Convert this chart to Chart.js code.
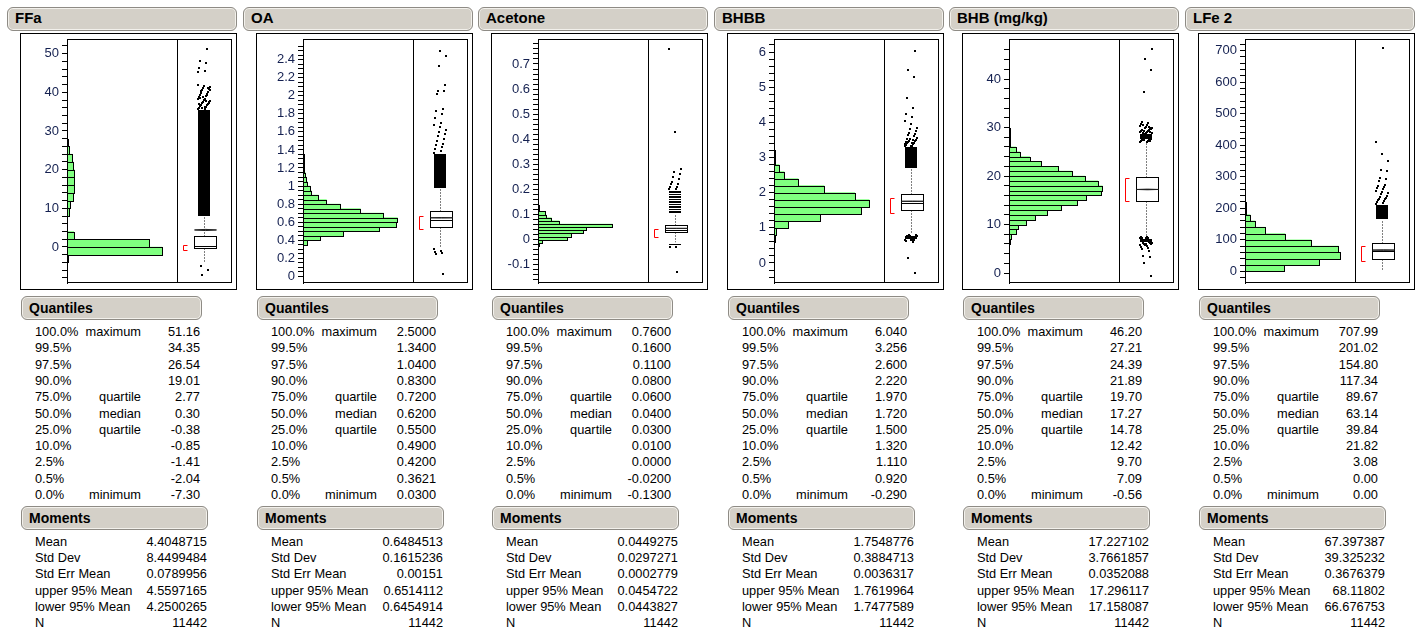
<!DOCTYPE html>
<html>
<head>
<meta charset="utf-8">
<script src="https://cdn.jsdelivr.net/npm/chart.js@4.4.0/dist/chart.umd.min.js"></script>
<style>
  html, body { margin: 0; padding: 0; background: #fff; }
  body { width: 1424px; height: 631px; position: relative; overflow: hidden;
         font-family: "Liberation Sans", Arial, sans-serif; color: #000; }
  .hdr { position: absolute; box-sizing: border-box; background: #d4d0c8;
         border: 1px solid #8e8b85; border-radius: 6px; box-shadow: inset 0 0 0 1px #f3f1ec;
         font-weight: bold; padding-left: 7px; white-space: nowrap; }
  .t { position: absolute; font-size: 12.8px; line-height: 16px; white-space: nowrap; }
  .r { text-align: right; }
  canvas { position: absolute; }
</style>
</head>
<body>
<script>
// row labels shared by all panels
const PCT = ["100.0%", "99.5%", "97.5%", "90.0%", "75.0%", "50.0%", "25.0%", "10.0%", "2.5%", "0.5%", "0.0%"];
const QNAME = ["maximum", "", "", "", "quartile", "median", "quartile", "", "", "", "minimum"];
const MNAME = ["Mean", "Std Dev", "Std Err Mean", "upper 95% Mean", "lower 95% Mean", "N"];

// ---- FFa
const ffaBins = [-8, -6, -4, -2, 0, 2, 4, 6, 8, 10, 12, 14, 16, 18, 20, 22, 24, 26, 28, 30, 32, 34, 36, 38, 40, 44, 46, 48, 50];
const ffaCounts = [2, 2, 25, 4700, 4060, 330, 8, 10, 100, 165, 315, 363, 363, 363, 315, 264, 115, 30, 15, 10, 8, 6, 4, 4, 4, 2, 2, 1, 1];
const ffaHist = [2, 5445];              // bin width, count at divider
const ffaAxis = [-9.31, 53.79, 2, 10];  // min, max, minor step, major step
const ffaTicks = [-8, 52];              // first and last tick
const ffaQuant = ["51.16", "34.35", "26.54", "19.01", "2.77", "0.30", "-0.38", "-0.85", "-1.41", "-2.04", "-7.30"];
const ffaMoments = ["4.4048715", "8.4499484", "0.0789956", "4.5597165", "4.2500265", "11442"];
const ffaWhisk = [-4.1, 7.8];
const ffaHalf = [-0.7, 0.6];
const ffaBands = [[8, 35.5]];
const ffaPts = [35.6, 35.8, 36, 36.2, 36.4, 36.6, 36.8, 37, 37.2, 37.4, 37.6, 37.8, 38, 38.2, 38.4, 38.7, 39, 39.3, 39.6, 39.9,
  40.2, 40.5, 40.8, 41.1, 41.4, 41.7, 42, 36.1, 36.9, 37.7, 38.5, 39.4, 40.3, 41.2, 35.9, 37.3, 38.9, 40.6, 41.6,
  45.2, 45.6, 46.3, 47.6, 48.2, 51.16, -5.0, -5.9, -7.3];

// ---- OA
const oaBins = [0.00, 0.25, 0.30, 0.35, 0.40, 0.45, 0.50, 0.55, 0.60, 0.65, 0.70, 0.75, 0.80, 0.85, 0.90, 0.95, 1.00, 1.05, 1.10, 1.15, 1.20, 1.25, 1.30, 1.35, 1.40, 1.45, 1.50, 1.55, 1.60, 1.65, 1.70, 1.75, 1.80, 2.00, 2.05, 2.30, 2.40, 2.50];
const oaCounts = [1, 6, 10, 88, 351, 817, 1546, 1890, 1910, 1627, 1161, 756, 473, 310, 169, 142, 88, 68, 47, 30, 25, 20, 15, 8, 5, 4, 3, 3, 3, 2, 1, 1, 2, 2, 2, 1, 1, 1];
const oaHist = [0.05, 2228];
const oaAxis = [-0.074, 2.629, 0.05, 0.2];
const oaTicks = [0, 2.55];
const oaQuant = ["2.5000", "1.3400", "1.0400", "0.8300", "0.7200", "0.6200", "0.5500", "0.4900", "0.4200", "0.3621", "0.0300"];
const oaMoments = ["0.6484513", "0.1615236", "0.00151", "0.6514112", "0.6454914", "11442"];
const oaWhisk = [0.31, 0.97];
const oaHalf = [0.52, 0.665];
const oaBands = [[0.975, 1.36]];
const oaPts = [1.37, 1.39, 1.41, 1.43, 1.45, 1.47, 1.5, 1.52, 1.55, 1.58, 1.6, 1.62, 1.65, 1.68, 1.7, 1.75, 1.8, 1.83, 1.85, 2.02, 2.05, 2.05, 2.12, 2.33, 2.44, 2.5, 0.3, 0.28, 0.27, 0.26, 0.25, 0.03];

// ---- Acetone
const accBins = [-0.1375, -0.05, -0.0375, -0.025, -0.0125, 0, 0.0125, 0.025, 0.0375, 0.05, 0.0625, 0.075, 0.0875, 0.1, 0.1125, 0.125, 0.1375, 0.15, 0.1625, 0.175, 0.1875, 0.2, 0.2125, 0.225, 0.2375, 0.25, 0.2625, 0.425, 0.75];
const accCounts = [1, 3, 10, 30, 161, 1167, 1327, 1825, 1945, 2990, 844, 536, 322, 295, 30, 25, 20, 15, 10, 8, 6, 4, 3, 3, 2, 2, 2, 1, 1];
const accHist = [0.0125, 4422];
const accAxis = [-0.1727, 0.7996, 0.02, 0.1];
const accTicks = [-0.16, 0.78];
const accQuant = ["0.7600", "0.1600", "0.1100", "0.0800", "0.0600", "0.0400", "0.0300", "0.0100", "0.0000", "-0.0200", "-0.1300"];
const accMoments = ["0.0449275", "0.0297271", "0.0002779", "0.0454722", "0.0443827", "11442"];
const accWhisk = [-0.01, 0.10];
const accHalf = [0.01, 0.043];
const accBands = [[0.107, 0.113], [0.117, 0.123], [0.127, 0.133], [0.137, 0.143], [0.147, 0.153], [0.157, 0.163], [0.167, 0.173], [0.177, 0.183], [0.187, 0.193], [-0.023, -0.017]];
const accPts = [0.2, 0.2, 0.21, 0.21, 0.22, 0.22, 0.23, 0.24, 0.25, 0.26, 0.27, 0.28, 0.43, 0.76, -0.03, -0.03, -0.13];

// ---- BHBB
const bhbbBins = [-0.4, 0, 0.4, 0.6, 0.8, 1.0, 1.2, 1.4, 1.6, 1.8, 2.0, 2.2, 2.4, 2.6, 2.8, 3.0, 3.2, 3.4, 3.6, 3.8, 4.0, 4.2, 4.6, 5.2, 5.4, 6.0];
const bhbbCounts = [1, 1, 3, 20, 55, 387, 1272, 2406, 2628, 2231, 1383, 664, 277, 138, 20, 15, 10, 6, 3, 2, 2, 2, 1, 1, 1, 1];
const bhbbHist = [0.2, 3043];
const bhbbAxis = [-0.569, 6.37, 0.2, 1];
const bhbbTicks = [-0.4, 6.2];
const bhbbQuant = ["6.040", "3.256", "2.600", "2.220", "1.970", "1.720", "1.500", "1.320", "1.110", "0.920", "-0.290"];
const bhbbMoments = ["1.7548776", "0.3884713", "0.0036317", "1.7619964", "1.7477589", "11442"];
const bhbbWhisk = [0.85, 2.67];
const bhbbHalf = [1.42, 1.85];
const bhbbBands = [[2.7, 3.3], [0.68, 0.76]];
const bhbbPts = [3.32, 3.34, 3.36, 3.38, 3.4, 3.42, 3.44, 3.46, 3.48, 3.5, 3.52, 3.55, 3.33, 3.37, 3.41, 3.45, 3.49, 3.53,
  3.6, 3.63, 3.66, 3.7, 3.75, 3.8, 3.85, 3.95, 4.05, 4.15, 4.25, 4.4, 4.7, 5.3, 5.5, 6.04,
  0.8, 0.79, 0.78, 0.77, 0.66, 0.65, 0.64, 0.62, 0.6, 0.78, 0.66, 0.15, -0.29];

// ---- BHB (mg/kg)
const bhbBins = [-1, 1, 2, 3, 4, 5, 6, 7, 8, 9, 10, 11, 12, 13, 14, 15, 16, 17, 18, 19, 20, 21, 22, 23, 24, 25, 26, 27, 28, 29, 30, 31, 37, 41, 44, 46];
const bhbCounts = [1, 1, 1, 2, 3, 5, 15, 23, 92, 120, 231, 356, 522, 716, 938, 1063, 1271, 1294, 1229, 1049, 869, 675, 439, 286, 148, 92, 18, 15, 12, 8, 5, 2, 1, 1, 1, 1];
const bhbHist = [1, 1525];
const bhbAxis = [-2.06, 48.25, 2, 10];
const bhbTicks = [0, 46];
const bhbQuant = ["46.20", "27.21", "24.39", "21.89", "19.70", "17.27", "14.78", "12.42", "9.70", "7.09", "-0.56"];
const bhbMoments = ["17.227102", "3.7661857", "0.0352088", "17.296117", "17.158087", "11442"];
const bhbWhisk = [7.6, 27.0];
const bhbHalf = [14.8, 19.5];
const bhbBands = [[27.7, 28.6], [6.4, 7.1]];
const bhbPts = [27.0, 27.1, 27.2, 27.3, 27.4, 27.5, 27.6, 27.2, 27.4, 27.6, 28.7, 28.8, 28.9, 29.0, 29.1, 29.2, 29.3, 29.4, 29.5,
  28.8, 29.0, 29.2, 29.6, 29.8, 30.0, 30.2, 30.4, 30.6, 30.8, 31.0, 31.2, 30.1, 30.5, 29.9,
  37.3, 41.8, 44.2, 46.2,
  7.2, 7.3, 7.4, 7.5, 7.2, 7.3, 6.3, 6.2, 6.1, 6.0, 5.9, 5.8, 6.2, 6.0, 5.7, 5.6, 5.4, 5.2, 5.0, 4.6, 3.6, 3.2, 2.0, -0.56];

// ---- LFe 2
const lfeBins = [0, 20, 40, 60, 80, 100, 120, 140, 160, 180, 200, 220, 240, 260, 280, 300, 320, 340, 360, 400, 700];
const lfeCounts = [1009, 1914, 2457, 2414, 1707, 1034, 526, 259, 129, 25, 15, 8, 5, 3, 2, 1, 1, 1, 1, 1, 1];
const lfeHist = [20, 2845];
const lfeAxis = [-37, 737, 20, 100];
const lfeTicks = [-20, 720];
const lfeQuant = ["707.99", "201.02", "154.80", "117.34", "89.67", "63.14", "39.84", "21.82", "3.08", "0.00", "0.00"];
const lfeMoments = ["67.397387", "39.325232", "0.3676379", "68.11802", "66.676753", "11442"];
const lfeWhisk = [0, 164];
const lfeHalf = [32, 79];
const lfeBands = [[165, 212]];
const lfePts = [215, 218, 220, 222, 225, 228, 230, 233, 236, 240, 244, 248, 252, 256, 260, 263, 266, 270, 274, 287, 292, 296, 318, 322, 350, 372, 410, 708];

const panels = [
  { title: "FFa", bins: ffaBins, counts: ffaCounts, hist: ffaHist, axis: ffaAxis, ticks: ffaTicks, quant: ffaQuant, mom: ffaMoments, whisk: ffaWhisk, half: ffaHalf, bands: ffaBands, pts: ffaPts },
  { title: "OA", bins: oaBins, counts: oaCounts, hist: oaHist, axis: oaAxis, ticks: oaTicks, quant: oaQuant, mom: oaMoments, whisk: oaWhisk, half: oaHalf, bands: oaBands, pts: oaPts },
  { title: "Acetone", bins: accBins, counts: accCounts, hist: accHist, axis: accAxis, ticks: accTicks, quant: accQuant, mom: accMoments, whisk: accWhisk, half: accHalf, bands: accBands, pts: accPts },
  { title: "BHBB", bins: bhbbBins, counts: bhbbCounts, hist: bhbbHist, axis: bhbbAxis, ticks: bhbbTicks, quant: bhbbQuant, mom: bhbbMoments, whisk: bhbbWhisk, half: bhbbHalf, bands: bhbbBands, pts: bhbbPts },
  { title: "BHB (mg/kg)", bins: bhbBins, counts: bhbCounts, hist: bhbHist, axis: bhbAxis, ticks: bhbTicks, quant: bhbQuant, mom: bhbMoments, whisk: bhbWhisk, half: bhbHalf, bands: bhbBands, pts: bhbPts },
  { title: "LFe 2", bins: lfeBins, counts: lfeCounts, hist: lfeHist, axis: lfeAxis, ticks: lfeTicks, quant: lfeQuant, mom: lfeMoments, whisk: lfeWhisk, half: lfeHalf, bands: lfeBands, pts: lfePts }
];

Chart.defaults.font.family = '"Liberation Sans", Arial, sans-serif';
const HIST_W = 110;   // width of histogram part of plot frame
const BOX_W = 22;

function el(cls, left, top, width, height, text, extra) {
  const d = document.createElement("div");
  d.className = cls;
  d.style.left = left + "px";
  d.style.top = top + "px";
  if (width) d.style.width = width + "px";
  if (height) d.style.height = height + "px";
  if (extra) Object.assign(d.style, extra);
  d.textContent = text;
  document.body.appendChild(d);
  return d;
}

// box plot, outliers, frame: drawn in pixel space of the chart's y scale
function jmpPlugin(p) {
  return {
    id: "jmp",
    afterDatasetsDraw(chart) {
      const ctx = chart.ctx, a = chart.chartArea, ys = chart.scales.y;
      const py = v => ys.getPixelForValue(v);
      const r = v => Math.round(v) + 0.5;
      ctx.save();
      ctx.strokeStyle = "#000";
      ctx.lineWidth = 1;

      // histogram outlines (shared edges)
      chart.getDatasetMeta(0).data.forEach(b => {
        const { x, y, base, height } = b.getProps(["x", "y", "base", "height"], true);
        const t = r(y - height / 2), bt = r(y + height / 2);
        ctx.strokeRect(r(base), t, Math.max(0, Math.round(x) - Math.round(base)), bt - t);
      });

      // plot frame + divider
      ctx.strokeRect(a.left + 0.5, a.top + 0.5, a.right - a.left - 1, a.bottom - a.top - 1);
      const dx = a.left + HIST_W;
      ctx.beginPath();
      ctx.moveTo(r(dx), a.top);
      ctx.lineTo(r(dx), a.bottom);
      ctx.stroke();

      const cx = dx + 27.5;
      const cxi = Math.floor(cx);
      const q3 = parseFloat(p.quant[4]), med = parseFloat(p.quant[5]), q1 = parseFloat(p.quant[6]);
      const mean = parseFloat(p.mom[0]), up95 = parseFloat(p.mom[3]), lo95 = parseFloat(p.mom[4]);
      const bl = Math.round(cx - BOX_W / 2) + 0.5;
      const bt = r(py(q3)), bb = r(py(q1));

      // whiskers
      ctx.save();
      ctx.setLineDash([1, 2]);
      ctx.beginPath();
      ctx.moveTo(cxi + 0.5, bt);
      ctx.lineTo(cxi + 0.5, py(p.whisk[1]));
      ctx.moveTo(cxi + 0.5, bb);
      ctx.lineTo(cxi + 0.5, py(p.whisk[0]));
      ctx.stroke();
      ctx.restore();

      // outliers
      ctx.fillStyle = "#000";
      p.bands.forEach(([lo, hi]) => {
        const t = py(hi), b = py(lo);
        ctx.fillRect(cxi - 6, Math.round(t), 12, Math.max(1, Math.round(b) - Math.round(t)));
      });
      p.pts.forEach((v, k) => {
        const jit = ((k * 7) % 13) - 6;
        ctx.fillRect(cxi + jit - 1, Math.round(py(v)) - 1, 2, 2);
      });

      // box
      ctx.fillStyle = "#fff";
      ctx.fillRect(bl, bt, BOX_W, bb - bt);
      ctx.strokeRect(bl, bt, BOX_W, bb - bt);
      ctx.beginPath();
      ctx.moveTo(bl, r(py(med)));
      ctx.lineTo(bl + BOX_W, r(py(med)));
      ctx.stroke();

      // mean diamond
      ctx.fillStyle = "#222";
      ctx.strokeStyle = "#222";
      ctx.beginPath();
      ctx.moveTo(bl, py(mean));
      ctx.lineTo(bl + BOX_W / 2, py(up95));
      ctx.lineTo(bl + BOX_W, py(mean));
      ctx.lineTo(bl + BOX_W / 2, py(lo95));
      ctx.closePath();
      ctx.fill();
      ctx.stroke();

      // shortest half bracket
      const x0 = r(dx + 6);
      ctx.strokeStyle = "#ff0000";
      ctx.beginPath();
      ctx.moveTo(x0 + 4, r(py(p.half[1])));
      ctx.lineTo(x0, r(py(p.half[1])));
      ctx.lineTo(x0, r(py(p.half[0])));
      ctx.lineTo(x0 + 4, r(py(p.half[0])));
      ctx.stroke();
      ctx.restore();
    },
    afterDraw(chart) {
      const ctx = chart.ctx;
      ctx.save();
      ctx.strokeStyle = "#000";
      ctx.lineWidth = 1;
      ctx.strokeRect(0.5, 0.5, chart.width - 1, chart.height - 1);
      ctx.restore();
    }
  };
}

panels.forEach((p, i) => {
  const ox = Math.round(20 + i * 235.6);

  // title bar
  el("hdr", ox - 13, 7, 230, 24, p.title, { fontSize: "15px", lineHeight: "20px" });

  // chart
  const cv = document.createElement("canvas");
  cv.width = 217;
  cv.height = 257;
  cv.style.left = ox + "px";
  cv.style.top = "33px";
  document.body.appendChild(cv);

  const [yMin, yMax, minor, major] = p.axis;
  const [tLo, tHi] = p.ticks;
  const isMajor = v => Math.abs(v / major - Math.round(v / major)) < 1e-6;

  new Chart(cv, {
    type: "bar",
    data: {
      datasets: [{
        data: p.bins.map((lo, k) => ({ x: p.counts[k], y: lo + p.hist[0] / 2 })),
        backgroundColor: "#80ff80",
        borderWidth: 0,
        barPercentage: 1,
        categoryPercentage: 1
      }]
    },
    options: {
      indexAxis: "y",
      responsive: false,
      animation: false,
      devicePixelRatio: 1,
      layout: { padding: { left: 7, top: 6, right: 5, bottom: 7 } },
      plugins: { legend: { display: false }, tooltip: { enabled: false } },
      scales: {
        x: { type: "linear", display: false, min: 0, max: p.hist[1] * 1.5 },
        y: {
          type: "linear",
          min: yMin,
          max: yMax,
          offset: false,
          afterBuildTicks: s => {
            s.ticks = s.ticks.filter(t => t.value >= tLo - 1e-9 && t.value <= tHi + 1e-9);
          },
          afterFit: s => { s.width = 40; s.paddingTop = 0; s.paddingBottom = 0; },
          ticks: {
            stepSize: minor,
            autoSkip: false,
            includeBounds: false,
            padding: 3,
            color: "#142050",
            font: { size: 13 },
            callback: v => (isMajor(v) ? String(+v.toFixed(4)) : "")
          },
          grid: { drawOnChartArea: false, drawTicks: true, tickLength: 5, color: "#000", lineWidth: 1, offset: false },
          border: { display: true, color: "#000", width: 1 }
        }
      }
    },
    plugins: [jmpPlugin(p)]
  });

  // Quantiles
  el("hdr", ox + 1, 296, 181, 24, "Quantiles", { fontSize: "14px", lineHeight: "22px" });
  PCT.forEach((pct, k) => {
    const top = 331.7 + k * 16.33 - 7.85;
    el("t", ox + 15, top, 0, 0, pct);
    el("t r", ox + 55, top, 66, 0, QNAME[k]);
    el("t r", ox + 120, top, 60, 0, p.quant[k]);
  });

  // Moments
  el("hdr", ox + 1, 506, 187, 24, "Moments", { fontSize: "14px", lineHeight: "22px" });
  MNAME.forEach((name, k) => {
    const top = 541.7 + k * 16.26 - 7.85;
    el("t", ox + 15, top, 0, 0, name);
    el("t r", ox + 110, top, 77, 0, p.mom[k]);
  });
});
</script>
</body>
</html>
